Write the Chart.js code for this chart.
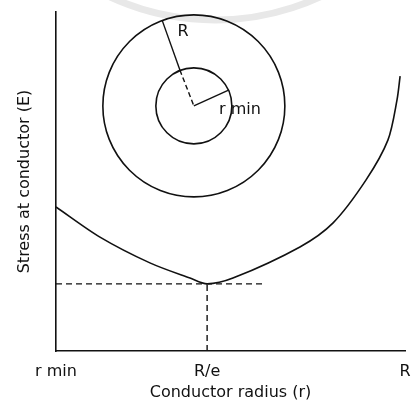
<!DOCTYPE html>
<html>
<head>
<meta charset="utf-8">
<script src="https://cdn.jsdelivr.net/npm/chart.js@4/dist/chart.umd.min.js"></script>
<style>
  html, body { margin: 0; padding: 0; background: #fff; }
  canvas { display: block; }
</style>
</head>
<body>
<canvas id="stressChart" width="412" height="402"></canvas>
<script>
// axis ticks (conductor radius, arbitrary units 0..100)
const tickValues = [0, 43.3, 100];
const tickLabels = ['r min', 'R/e', 'R'];

// stress curve
const radiusX = [0, 12.6, 26.9, 38.4, 43.3, 50.7, 69.9, 79.4, 88.8, 95.1, 97.7, 98.6];
const stressY = [42.5, 33.6, 26.0, 21.5, 19.8, 21.5, 30.7, 37.8, 50.4, 62.2, 74.0, 81.1];

// minimum point guide lines
const minX = 43.3;
const minY = 19.8;
const guideEndX = 59.3;

// cable cross-section sketch (centre, and the ends of the two radii)
const centreX = 39.5, centreY = 72.3;
const bigRadiusEnd = [30.4, 97.6];
const bigRadiusMid = [35.5, 82.9];
const smallRadiusEnd = [49.6, 77.0];

const noteText = ['R', 'r min'];
const noteX = [36.4, 52.7];
const noteY = [94.1, 71.1];

const FONT = '"DejaVu Sans", Arial, sans-serif';

const pts = radiusX.map((x, i) => ({x: x, y: stressY[i]}));

const notes = {
    id: 'notes',
    beforeDraw(chart) {
        // faint watermark arc at the top of the scan
        const c = chart.ctx;
        c.save();
        c.strokeStyle = '#e8e8e8';
        c.lineWidth = 7;
        c.beginPath();
        c.arc(215, -230, 250, 0.15 * Math.PI, 0.85 * Math.PI);
        c.stroke();
        c.restore();
    },
    afterDatasetsDraw(chart) {
        const c = chart.ctx;
        const xs = chart.scales.x, ys = chart.scales.y;
        c.save();
        c.fillStyle = '#111';
        c.font = '16px ' + FONT;
        c.textAlign = 'center';
        c.textBaseline = 'middle';
        noteText.forEach((t, i) => {
            c.fillText(t, xs.getPixelForValue(noteX[i]), ys.getPixelForValue(noteY[i]));
        });
        c.restore();
    }
};

new Chart(document.getElementById('stressChart'), {
    type: 'scatter',
    data: {
        datasets: [
            { data: pts, showLine: true, tension: 0.3, borderColor: '#111', borderWidth: 1.6, pointRadius: 0 },
            { data: [{x: 0, y: minY}, {x: guideEndX, y: minY}], showLine: true, borderColor: '#111', borderWidth: 1.4, borderDash: [6, 4], pointRadius: 0 },
            { data: [{x: minX, y: 0}, {x: minX, y: minY}], showLine: true, borderColor: '#111', borderWidth: 1.4, borderDash: [6, 4], pointRadius: 0 },
            // circles of the cable section
            { data: [{x: centreX, y: centreY}], pointRadius: 91, pointBorderWidth: 1.6, pointBorderColor: '#111', pointBackgroundColor: 'rgba(0,0,0,0)' },
            { data: [{x: centreX, y: centreY}], pointRadius: 38, pointBorderWidth: 1.6, pointBorderColor: '#111', pointBackgroundColor: 'rgba(0,0,0,0)' },
            // radii
            { data: [{x: bigRadiusEnd[0], y: bigRadiusEnd[1]}, {x: bigRadiusMid[0], y: bigRadiusMid[1]}], showLine: true, borderColor: '#111', borderWidth: 1.4, pointRadius: 0 },
            { data: [{x: bigRadiusMid[0], y: bigRadiusMid[1]}, {x: centreX, y: centreY}], showLine: true, borderColor: '#111', borderWidth: 1.4, borderDash: [5, 3], pointRadius: 0 },
            { data: [{x: centreX, y: centreY}, {x: smallRadiusEnd[0], y: smallRadiusEnd[1]}], showLine: true, borderColor: '#111', borderWidth: 1.4, pointRadius: 0 }
        ]
    },
    options: {
        responsive: false,
        animation: false,
        devicePixelRatio: 1,
        layout: { autoPadding: false, padding: { top: 12, right: 0, left: 0, bottom: 0 } },
        plugins: { legend: { display: false }, tooltip: { enabled: false } },
        scales: {
            x: {
                type: 'linear', min: 0, max: 100,
                grid: { display: false },
                border: { display: true, color: '#111', width: 1.6 },
                afterBuildTicks: s => { s.ticks = tickValues.map(v => ({value: v})); },
                afterFit: s => { s.height = 51; s.paddingRight = 7; },
                ticks: {
                    padding: 3, color: '#111', maxRotation: 0, autoSkip: false,
                    font: { family: FONT, size: 16 },
                    callback: (v, i) => tickLabels[i]
                },
                title: {
                    display: true, text: 'Conductor radius (r)', color: '#111',
                    font: { family: FONT, size: 16 }, padding: { top: 0, bottom: 0 }
                }
            },
            y: {
                type: 'linear', min: 0, max: 100,
                grid: { display: false },
                border: { display: true, color: '#111', width: 1.6 },
                ticks: { display: false },
                afterFit: s => { s.width = 56; },
                title: {
                    display: true, text: 'Stress at conductor (E)', color: '#111',
                    font: { family: FONT, size: 16 }, padding: { top: 15, bottom: 0 }
                }
            }
        }
    },
    plugins: [notes]
});
</script>
</body>
</html>
